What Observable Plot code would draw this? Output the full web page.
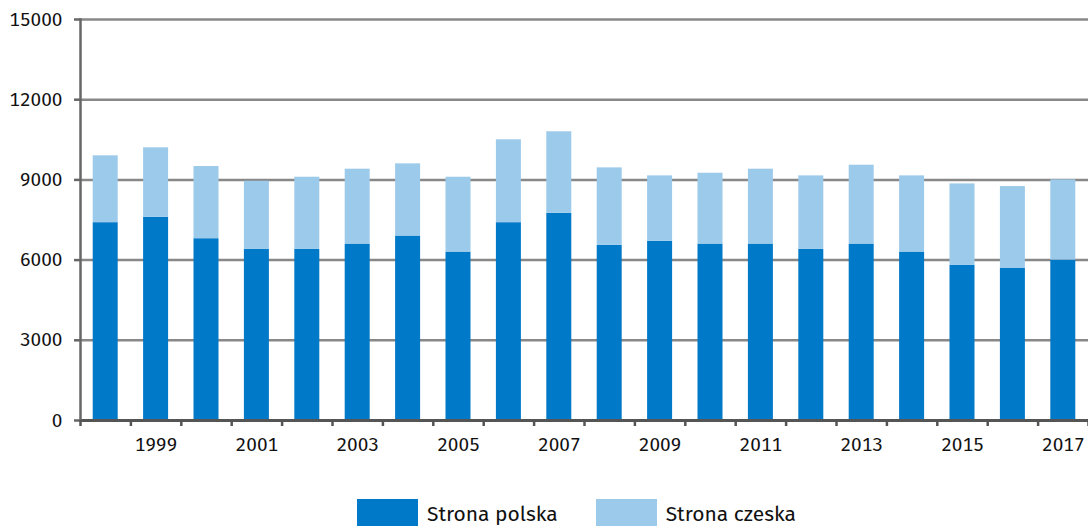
<!DOCTYPE html>
<html>
<head>
<meta charset="utf-8">
<script src="https://cdn.jsdelivr.net/npm/d3@7"></script>
<script src="https://cdn.jsdelivr.net/npm/@observablehq/plot@0.6"></script>
<style>
  html, body { margin: 0; padding: 0; background: #fff; }
  body { width: 1088px; height: 526px; overflow: hidden; font-family: "Fira Sans", "Open Sans", sans-serif; }
  #legend { display: flex; align-items: center; margin-top: 29px; margin-left: 357px; font-size: 21px; color: #111; }
  .item { display: flex; align-items: center; }
  .sw { width: 61px; height: 30px; margin-right: 9px; }
  .item + .item { margin-left: 38px; }
</style>
</head>
<body>
<div id="chart"></div>
<div id="legend"></div>
<script>
const years = [1998,1999,2000,2001,2002,2003,2004,2005,2006,2007,2008,2009,2010,2011,2012,2013,2014,2015,2016,2017];
const polska = [7400,7600,6800,6400,6400,6600,6900,6300,7400,7750,6550,6700,6600,6600,6400,6600,6300,5800,5700,6000];
const czeska = [2500,2600,2700,2550,2700,2800,2700,2800,3100,3050,2900,2450,2650,2800,2750,2950,2850,3050,3050,3000];
const seriesNames = ["Strona polska", "Strona czeska"];
const seriesColors = ["#0079c8", "#9ccaea"];
const yTicks = [0, 3000, 6000, 9000, 12000, 15000];
const xLabelYears = [1999,2001,2003,2005,2007,2009,2011,2013,2015,2017];

const data = [
  ...years.map((year, i) => ({year, series: seriesNames[0], value: polska[i]})),
  ...years.map((year, i) => ({year, series: seriesNames[1], value: czeska[i]}))
];
const boundaries = [years[0] - 0.5, ...years.map(y => y + 0.5)];

const chart = Plot.plot({
  width: 1088,
  height: 470,
  marginTop: 19,
  marginBottom: 50,
  marginLeft: 80,
  marginRight: 0,
  style: {fontFamily: '"Fira Sans", "Open Sans", sans-serif', fontSize: "19px", color: "#111", background: "#fff"},
  x: {domain: [years[0] - 0.5, years[years.length - 1] + 0.5], axis: null},
  y: {domain: [0, 15000], axis: null},
  color: {domain: seriesNames, range: seriesColors},
  marks: [
    Plot.ruleY(yTicks.filter(d => d > 0), {stroke: "#888", strokeWidth: 2.5}),
    Plot.rectY(data, {
      x1: d => d.year - 0.5,
      x2: d => d.year + 0.5,
      y: "value",
      fill: "series",
      insetLeft: 12.7,
      insetRight: 12.7
    }),
    Plot.ruleY([0], {stroke: "#555", strokeWidth: 3}),
    Plot.frame({anchor: "left", stroke: "#666", strokeWidth: 2.5}),
    Plot.axisY({ticks: yTicks, tickFormat: "d", tickSize: 6, tickPadding: 12, stroke: "#666", strokeWidth: 2.5, fill: "#111", label: null}),
    Plot.axisX({ticks: boundaries, tickFormat: () => "", tickSize: 6, stroke: "#555", strokeWidth: 2.5, label: null}),
    Plot.axisX({ticks: xLabelYears, tickFormat: "d", tickSize: 0, tickPadding: 17, fill: "#111", label: null})
  ]
});
document.getElementById("chart").appendChild(chart);

const legend = document.getElementById("legend");
seriesNames.forEach((name, i) => {
  const item = document.createElement("div");
  item.className = "item";
  const sw = document.createElement("div");
  sw.className = "sw";
  sw.style.background = seriesColors[i];
  const label = document.createElement("span");
  label.textContent = name;
  item.appendChild(sw);
  item.appendChild(label);
  legend.appendChild(item);
});
</script>
</body>
</html>
